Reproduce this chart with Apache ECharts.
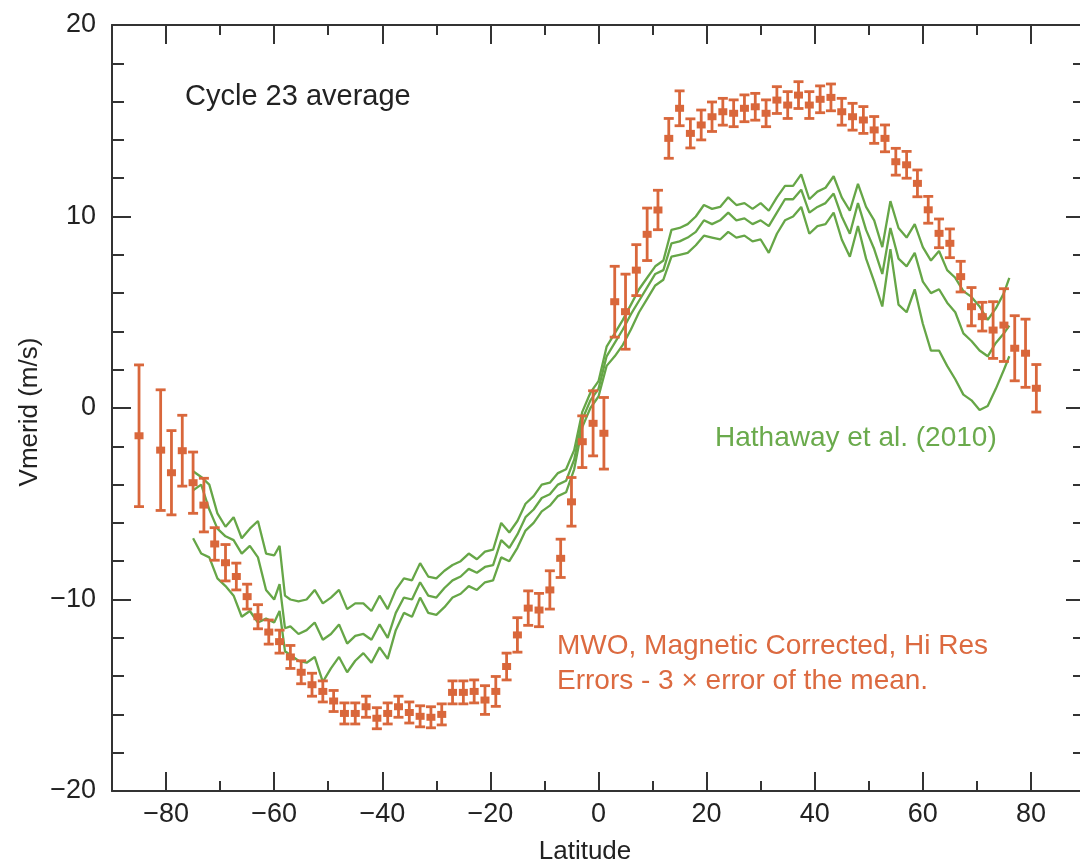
<!DOCTYPE html>
<html>
<head>
<meta charset="utf-8">
<script src="https://cdn.jsdelivr.net/npm/echarts@6/dist/echarts.min.js"></script>
<style>html,body{margin:0;padding:0;background:#fff}#c{width:1080px;height:866px}</style>
</head>
<body>
<div id="c"></div>
<script>
// ---- MWO orange points (latitude, Vmerid, 3x error of the mean) ----
const mwoLat = [-85,-81,-79,-77,-75,-73,-71,-69,-67,-65,-63,-61,-59,-57,-55,-53,-51,-49,-47,-45,-43,-41,-39,-37,-35,-33,-31,-29,-27,-25,-23,-21,-19,-17,-15,-13,-11,-9,-7,-5,-3,-1,1,3,5,7,9,11,13,15,17,19,21,23,25,27,29,31,33,35,37,39,41,43,45,47,49,51,53,55,57,59,61,63,65,67,69,71,73,75,77,79,81];
const mwoVal = [-1.45,-2.2,-3.38,-2.23,-3.9,-5.07,-7.1,-8.08,-8.8,-9.85,-10.9,-11.7,-12.2,-13.0,-13.8,-14.45,-14.8,-15.3,-15.95,-15.95,-15.6,-16.2,-15.95,-15.6,-15.9,-16.1,-16.15,-16.0,-14.85,-14.85,-14.8,-15.25,-14.8,-13.5,-11.85,-10.45,-10.55,-9.5,-7.85,-4.9,-1.76,-0.8,-1.32,5.55,5.03,7.2,9.07,10.34,14.08,15.65,14.34,14.78,15.21,15.47,15.39,15.65,15.73,15.39,16.08,15.82,16.34,15.82,16.12,16.22,15.47,15.21,15.04,14.52,14.08,12.86,12.7,11.73,10.35,9.12,8.6,6.86,5.29,4.77,4.07,4.33,3.12,2.86,1.03];
const mwoErr = [3.7,3.15,2.2,1.85,1.6,1.4,0.85,0.95,0.7,0.65,0.63,0.63,0.6,0.6,0.6,0.6,0.55,0.55,0.55,0.55,0.55,0.55,0.55,0.55,0.55,0.55,0.55,0.55,0.6,0.6,0.6,0.75,0.78,0.7,0.9,0.9,0.87,1.0,1.0,1.27,1.35,1.7,1.87,1.85,1.96,1.33,1.37,1.03,1.04,0.91,0.76,0.78,0.77,0.7,0.7,0.7,0.7,0.7,0.7,0.7,0.7,0.7,0.7,0.7,0.7,0.7,0.7,0.7,0.7,0.7,0.7,0.7,0.7,0.75,0.75,0.8,1.0,0.75,1.48,1.9,1.7,1.78,1.24];

// ---- Hathaway et al. (2010) green band ----
const hLat = [-75,-73.5,-72,-70.5,-69,-67.5,-66,-64.5,-63,-61.5,-60,-59,-58,-57,-55.5,-54,-52.5,-51,-49.5,-48,-46.5,-45,-43.5,-42,-40.5,-39,-37.5,-36,-34.5,-33,-31.5,-30,-28.5,-27,-25.5,-24,-22.5,-21,-19.5,-18,-16.5,-15,-13.5,-12,-10.5,-9,-7.5,-6,-4.5,-3,-1.5,0,1.5,3,4.5,6,7.5,9,10.5,12,13.5,15,16.5,18,19.5,21,22.5,24,25.5,27,28.5,30,31.5,33,34.5,36,37.5,39,40.5,42,43.5,45,46.5,48,49.5,51,52.5,54,55.5,57,58.5,60,61.5,63,64.5,66,67.5,69,70.5,72,73.5,75,76];
const hUpper = [-3.3,-3.6,-4.0,-5.5,-6.2,-5.7,-6.8,-6.3,-5.9,-7.6,-7.7,-7.2,-9.8,-10.0,-10.1,-10.0,-9.5,-10.2,-9.9,-9.5,-10.5,-10.2,-10.2,-10.6,-9.8,-10.5,-9.5,-8.9,-9.0,-8.1,-8.8,-8.9,-8.5,-8.2,-8.0,-7.6,-7.9,-7.5,-7.4,-6.0,-6.5,-5.9,-5.0,-4.6,-4.0,-3.9,-3.4,-3.2,-2.2,-0.2,0.8,1.4,3.2,3.9,4.6,5.4,6.2,6.8,7.4,7.7,9.3,9.4,9.6,10.0,10.6,10.4,10.5,11.0,10.6,10.7,10.4,10.7,10.3,11.0,11.6,11.6,12.2,10.9,11.3,11.5,12.1,11.0,10.3,11.7,10.5,9.8,8.4,10.8,9.4,8.9,9.6,8.4,7.7,8.2,7.2,6.8,6.1,5.8,5.3,4.6,5.2,6.0,6.8];
const hMid = [-4.3,-4.0,-5.3,-6.3,-6.7,-6.9,-7.6,-7.2,-7.8,-9.5,-10.0,-9.2,-11.5,-11.4,-11.8,-11.6,-11.2,-12.1,-11.8,-11.3,-12.3,-11.9,-11.8,-12.1,-11.3,-12.0,-10.7,-9.9,-10.0,-9.1,-9.8,-9.9,-9.4,-9.0,-8.8,-8.4,-8.6,-8.3,-8.2,-6.9,-7.3,-6.6,-5.7,-5.3,-4.7,-4.5,-4.0,-3.8,-2.7,-0.6,0.4,1.0,2.7,3.4,4.1,4.9,5.6,6.3,7.0,7.2,8.6,8.7,8.9,9.2,9.8,9.6,9.8,10.2,9.8,9.9,9.6,9.8,9.5,10.2,10.9,10.9,11.4,10.2,10.5,10.7,11.2,10.0,9.1,10.7,9.3,8.3,7.0,9.4,7.8,7.4,8.1,6.6,6.0,6.2,5.5,5.0,3.9,3.5,3.0,2.7,3.4,3.9,4.3];
const hLower = [-6.8,-7.6,-7.8,-8.9,-9.3,-9.8,-10.9,-10.6,-11.2,-11.0,-11.2,-10.6,-12.7,-12.9,-13.2,-13.3,-13.0,-14.3,-13.6,-13.0,-13.8,-13.2,-12.8,-13.3,-12.5,-13.1,-11.6,-10.7,-10.9,-9.9,-10.7,-10.8,-10.4,-9.9,-9.7,-9.3,-9.5,-9.1,-9.0,-7.8,-8.0,-7.3,-6.4,-6.0,-5.4,-5.1,-4.6,-4.4,-3.2,-1.0,0.0,0.6,2.2,2.7,3.3,4.1,5.0,5.7,6.4,6.7,7.9,8.0,8.1,8.5,9.0,8.9,8.8,9.2,8.9,9.0,8.7,8.8,8.1,9.1,9.8,10.0,10.5,9.1,9.5,9.6,10.2,8.8,7.9,9.5,7.8,6.6,5.3,8.3,5.4,5.0,6.2,4.4,3.0,3.0,2.2,1.5,0.7,0.4,-0.1,0.1,1.0,2.0,2.7];

// ---- axis tick values ----
const xMajorTicks = [-80,-60,-40,-20,0,20,40,60,80];

const ORANGE = '#d9673b';
const GREEN = '#66a647';
const AXIS = '#333333';
const FONT = '"Liberation Sans", Arial, Helvetica, sans-serif';

const mwoData = mwoLat.map((l, i) => [l, mwoVal[i], mwoErr[i]]);
const zip = (a, b) => a.map((v, i) => [v, b[i]]);

function fmt(v) { return v < 0 ? '\u2212' + Math.abs(v) : String(v); }

const chart = echarts.init(document.getElementById('c'), null, {renderer: 'canvas'});

const axisLineStyle = {show: true, onZero: false, lineStyle: {color: AXIS, width: 2}};
const noLine = {show: false, onZero: false};

function xMajor(pos, withLabels) {
  return {
    type: 'value', min: -90, max: 90, position: pos,
    axisLine: axisLineStyle,
    axisTick: {show: true, inside: true, length: 19, customValues: xMajorTicks, lineStyle: {color: AXIS, width: 2}},
    splitLine: {show: false},
    axisLabel: withLabels
      ? {show: true, customValues: xMajorTicks, color: '#222', fontSize: 27, fontFamily: FONT, margin: 10, formatter: fmt}
      : {show: false}
  };
}
function xMinor(pos) {
  return {
    type: 'value', min: -90, max: 90, interval: 10, position: pos,
    axisLine: noLine,
    axisTick: {show: true, inside: true, length: 10, lineStyle: {color: AXIS, width: 2}},
    splitLine: {show: false},
    axisLabel: {show: false}
  };
}
function yAx(pos, withLabels) {
  return {
    type: 'value', min: -20, max: 20, interval: 10, position: pos,
    axisLine: axisLineStyle,
    axisTick: {show: true, inside: true, length: 19, lineStyle: {color: AXIS, width: 2}},
    minorTick: {show: true, splitNumber: 5, length: 12, lineStyle: {color: AXIS, width: 2}},
    splitLine: {show: false},
    axisLabel: withLabels
      ? {color: '#222', fontSize: 27, fontFamily: FONT, margin: 16, formatter: fmt}
      : {show: false}
  };
}

const option = {
  animation: false,
  backgroundColor: '#ffffff',
  grid: {left: 112, top: 25, width: 973, height: 766, containLabel: false, outerBoundsMode: 'none'},
  xAxis: [xMajor('bottom', true), xMajor('top', false), xMinor('bottom'), xMinor('top')],
  yAxis: [yAx('left', true), yAx('right', false)],
  series: [
    {type: 'line', name: 'Hathaway upper', data: zip(hLat, hUpper), showSymbol: false, symbol: 'none',
     lineStyle: {color: GREEN, width: 2.3}, z: 2},
    {type: 'line', name: 'Hathaway mean', data: zip(hLat, hMid), showSymbol: false, symbol: 'none',
     lineStyle: {color: GREEN, width: 2.3}, z: 2},
    {type: 'line', name: 'Hathaway lower', data: zip(hLat, hLower), showSymbol: false, symbol: 'none',
     lineStyle: {color: GREEN, width: 2.3}, z: 2},
    {
      type: 'custom', name: 'MWO', data: mwoData, z: 3,
      encode: {x: 0, y: 1},
      renderItem: function (params, api) {
        const x = api.value(0), v = api.value(1), e = api.value(2);
        const t = api.coord([x, v + e]);
        const b = api.coord([x, v - e]);
        const c = api.coord([x, v]);
        const hw = 5;
        const st = {stroke: ORANGE, lineWidth: 2.8};
        return {
          type: 'group',
          children: [
            {type: 'line', shape: {x1: t[0], y1: t[1], x2: b[0], y2: b[1]}, style: st},
            {type: 'line', shape: {x1: t[0] - hw, y1: t[1], x2: t[0] + hw, y2: t[1]}, style: st},
            {type: 'line', shape: {x1: b[0] - hw, y1: b[1], x2: b[0] + hw, y2: b[1]}, style: st},
            {type: 'rect', shape: {x: c[0] - 4.5, y: c[1] - 3.5, width: 9, height: 7}, style: {fill: ORANGE}}
          ]
        };
      }
    }
  ],
  graphic: [
    {type: 'text', left: 185, top: 82, style: {text: 'Cycle 23 average', fill: '#222', font: '29px ' + FONT}},
    {type: 'text', left: 715, top: 424, style: {text: 'Hathaway et al. (2010)', fill: '#6aaa4c', font: '28px ' + FONT}},
    {type: 'text', left: 557, top: 632, style: {text: 'MWO, Magnetic Corrected, Hi Res', fill: '#dc6a40', font: '28px ' + FONT}},
    {type: 'text', left: 557, top: 667, style: {text: 'Errors - 3 \u00d7 error of the mean.', fill: '#dc6a40', font: '28px ' + FONT}},
    {type: 'text', x: 585, y: 852, style: {text: 'Latitude', fill: '#222', font: '26px ' + FONT, align: 'center', verticalAlign: 'middle'}},
    {type: 'text', x: 30, y: 412, rotation: Math.PI / 2, style: {text: 'Vmerid (m/s)', fill: '#222', font: '26px ' + FONT, align: 'center', verticalAlign: 'middle'}}
  ]
};
chart.setOption(option);
</script>
</body>
</html>
